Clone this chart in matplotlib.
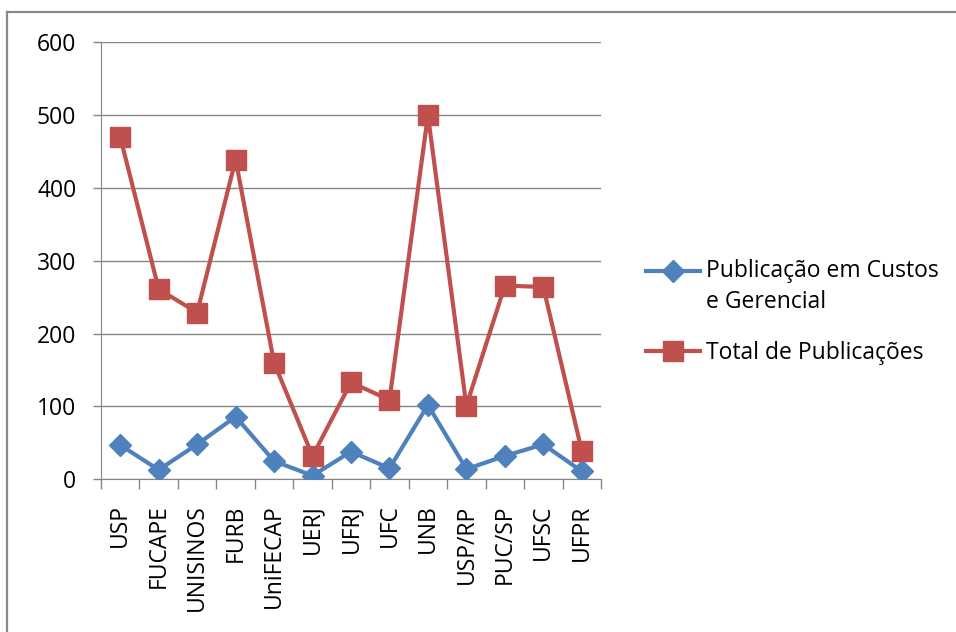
import matplotlib
matplotlib.use("Agg")
import matplotlib.pyplot as plt
from matplotlib.legend_handler import HandlerLine2D
from matplotlib.lines import Line2D

categories = ["USP", "FUCAPE", "UNISINOS", "FURB", "UniFECAP", "UERJ", "UFRJ",
              "UFC", "UNB", "USP/RP", "PUC/SP", "UFSC", "UFPR"]
custos = [47, 13, 48, 86, 25, 5, 38, 15, 102, 14, 32, 48, 11]
total = [470, 261, 229, 439, 160, 32, 133, 109, 500, 101, 266, 264, 39]
yticks = [0, 100, 200, 300, 400, 500, 600]
label_custos = "Publicação em Custos\ne Gerencial"
label_total = "Total de Publicações"

BLUE = "#4F81BD"
RED = "#C0504D"
GRAY = "#868686"
FS = 16.5

plt.rcParams["font.family"] = ["Open Sans", "DejaVu Sans"]

fig = plt.figure(figsize=(9.56, 6.32), dpi=100)
W, H = 956, 632
ax = fig.add_axes([101 / W, 1 - 479.3 / H, 500 / W, 437 / H])

x = list(range(len(categories)))
l1, = ax.plot(x, custos, color=BLUE, lw=3, marker="D", ms=11,
              mec=BLUE, mfc=BLUE, label=label_custos, zorder=3)
l2, = ax.plot(x, total, color=RED, lw=3, marker="s", ms=14,
              mec=RED, mfc=RED, label=label_total, zorder=3)

ax.set_xlim(-0.5, len(categories) - 0.5)
ax.set_ylim(0, 600)
ax.set_yticks(yticks)
ax.set_yticklabels([str(v) for v in yticks], fontsize=FS)
ax.yaxis.grid(True, color=GRAY, lw=1)
ax.set_axisbelow(True)
ax.tick_params(axis="y", length=5.8, width=1, color=GRAY, pad=12)

ax.set_xticks(x)
ax.set_xticklabels(categories, rotation=90, fontsize=FS, va="top", ha="center")
ax.tick_params(axis="x", which="major", length=0, pad=18)
ax.set_xticks([i - 0.5 for i in range(len(categories) + 1)], minor=True)
ax.tick_params(axis="x", which="minor", length=7.2, width=1, color=GRAY)

for s in ["top", "right"]:
    ax.spines[s].set_visible(False)
ax.spines["left"].set_color(GRAY)
ax.spines["bottom"].set_color(GRAY)


class ShiftedHandler(HandlerLine2D):
    def __init__(self, dy=0.0, **kw):
        super().__init__(**kw)
        self.dy = dy

    def create_artists(self, legend, orig_handle, xdescent, ydescent,
                       width, height, fontsize, trans):
        return super().create_artists(legend, orig_handle, xdescent,
                                      ydescent - 2 * self.dy, width, height,
                                      fontsize, trans)


leg = fig.legend(handles=[l1, l2], loc="upper left",
                 bbox_to_anchor=(646 / W, 1 - 259 / H),
                 frameon=False, fontsize=FS, handlelength=2.35,
                 handletextpad=0.28, labelspacing=1.2, borderpad=0,
                 borderaxespad=0,
                 handler_map={l1: ShiftedHandler(dy=11.5, numpoints=1),
                              l2: HandlerLine2D(numpoints=1)})
for t in leg.get_texts():
    t.set_linespacing(1.37)

# outer chart frame (left and top edges visible)
fig.add_artist(Line2D([7 / W, 7 / W], [0, 1 - 12 / H], transform=fig.transFigure,
                      color="#898989", lw=1.6))
fig.add_artist(Line2D([7 / W, 1], [1 - 12 / H, 1 - 12 / H], transform=fig.transFigure,
                      color="#898989", lw=1.6))

fig.savefig("out.png", dpi=100)
